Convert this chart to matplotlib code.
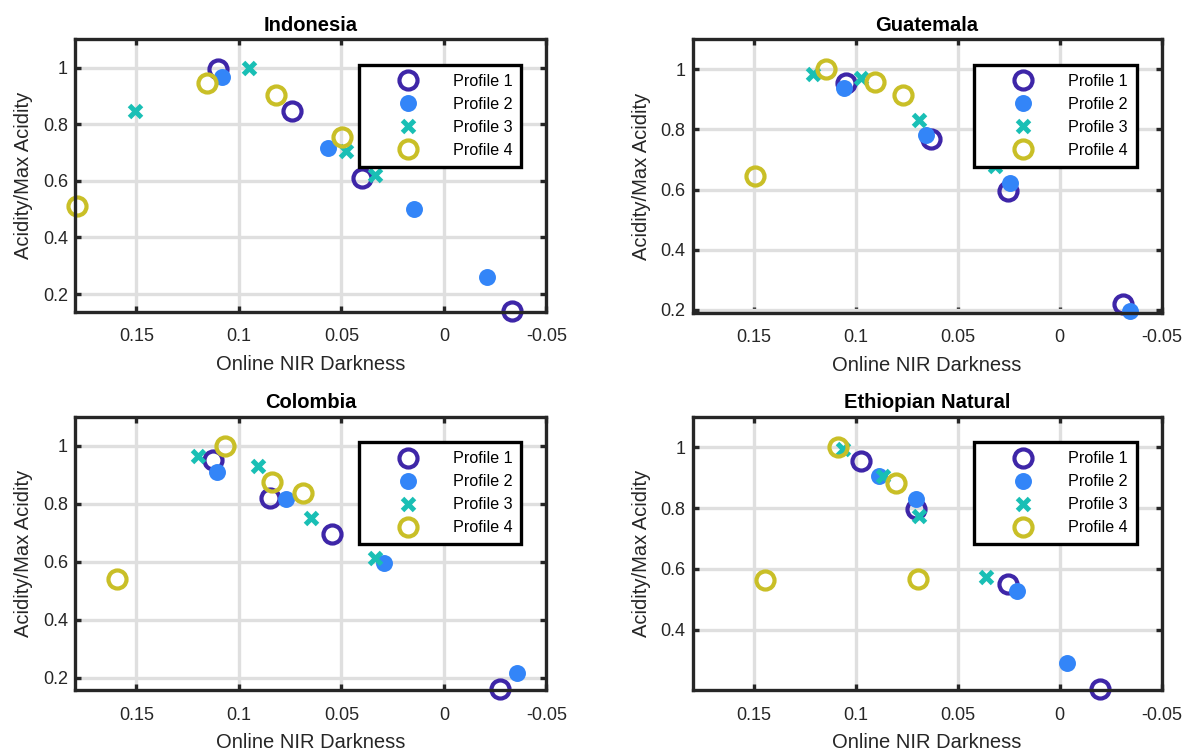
import matplotlib
matplotlib.use("Agg")
import matplotlib.pyplot as plt
from matplotlib.ticker import FuncFormatter

plt.rcParams['font.family'] = ['Liberation Sans', 'DejaVu Sans']
plt.rcParams['axes.unicode_minus'] = False

titles = ["Indonesia", "Guatemala", "Colombia", "Ethiopian Natural"]
profiles = ["Profile 1", "Profile 2", "Profile 3", "Profile 4"]

# Online NIR darkness (x) and normalised acidity (y) per profile
indonesia_x = [[0.110, 0.074, 0.040, -0.033],
               [0.1085, 0.0567, 0.0147, -0.0208],
               [0.1505, 0.095, 0.0478, 0.0338],
               [0.179, 0.1155, 0.0819, 0.0495]]
indonesia_y = [[0.994, 0.848, 0.609, 0.139],
               [0.968, 0.715, 0.502, 0.260],
               [0.848, 1.000, 0.704, 0.621],
               [0.512, 0.947, 0.902, 0.754]]

guatemala_x = [[0.1047, 0.0633, 0.0253, -0.0312],
               [0.1056, 0.0657, 0.0244, -0.0343],
               [0.1207, 0.0974, 0.069, 0.0317],
               [0.1496, 0.1146, 0.0904, 0.0767]]
guatemala_y = [[0.955, 0.768, 0.594, 0.218],
               [0.939, 0.783, 0.621, 0.195],
               [0.986, 0.970, 0.830, 0.679],
               [0.646, 1.000, 0.959, 0.914]]

colombia_x = [[0.1125, 0.0849, 0.0546, -0.0275],
              [0.1106, 0.077, 0.0292, -0.0355],
              [0.1202, 0.0907, 0.0648, 0.0338],
              [0.1593, 0.1068, 0.084, 0.0686]]
colombia_y = [[0.950, 0.821, 0.694, 0.160],
              [0.908, 0.815, 0.596, 0.215],
              [0.965, 0.931, 0.752, 0.611],
              [0.540, 1.000, 0.875, 0.836]]

ethiopia_x = [[0.0974, 0.0702, 0.0253, -0.020],
              [0.0886, 0.0702, 0.0211, -0.0035],
              [0.1064, 0.0867, 0.069, 0.0359],
              [0.1445, 0.1087, 0.080, 0.0693]]
ethiopia_y = [[0.953, 0.796, 0.551, 0.205],
              [0.904, 0.829, 0.529, 0.292],
              [0.994, 0.904, 0.774, 0.574],
              [0.565, 1.000, 0.881, 0.568]]

panel_x = [indonesia_x, guatemala_x, colombia_x, ethiopia_x]
panel_y = [indonesia_y, guatemala_y, colombia_y, ethiopia_y]
y_bottom = [0.1375, 0.19, 0.157, 0.203]

x_ticks = [0.15, 0.1, 0.05, 0, -0.05]
y_ticks = [0.2, 0.4, 0.6, 0.8, 1.0]

colors = ["#3e26a8", "#3385f8", "#19bfb5", "#c9bf27"]
styles = [
    dict(marker='o', ms=13.0, mew=3.0, mfc='none'),
    dict(marker='o', ms=12.2, mew=0.0),
    dict(marker='x', ms=8.5, mew=3.6),
    dict(marker='o', ms=13.0, mew=3.0, mfc='none'),
]

positions = [
    [0.0633, 0.5860, 0.3978, 0.3618],
    [0.5844, 0.5847, 0.3959, 0.3631],
    [0.0633, 0.0837, 0.3978, 0.3630],
    [0.5844, 0.0837, 0.3959, 0.3630],
]

dark = "#262626"
fmt = FuncFormatter(lambda v, p: "%g" % round(v, 4))

fig = plt.figure(figsize=(11.85, 7.53), dpi=100)
for k in range(4):
    ax = fig.add_axes(positions[k])
    for j in range(4):
        st = dict(styles[j])
        ax.plot(panel_x[k][j], panel_y[k][j], linestyle='none',
                color=colors[j], mec=colors[j], label=profiles[j],
                clip_on=False, zorder=3, **st)
    ax.set_xlim(0.18, -0.05)
    ax.set_ylim(y_bottom[k], 1.1)
    ax.set_xticks(x_ticks)
    ax.set_yticks([t for t in y_ticks if t >= y_bottom[k]])
    ax.xaxis.set_major_formatter(fmt)
    ax.yaxis.set_major_formatter(fmt)
    ax.grid(True, color="#dfdfdf", linewidth=2.4, zorder=0)
    ax.set_axisbelow(True)
    for s in ax.spines.values():
        s.set_linewidth(2.4)
        s.set_color(dark)
        s.set_zorder(4)
    ax.tick_params(axis='both', direction='in', length=4, width=2.4,
                   color=dark, labelcolor=dark, labelsize=13,
                   top=True, right=True)
    ax.tick_params(axis='x', pad=12)
    ax.tick_params(axis='y', pad=5)
    ax.set_xlabel("Online NIR Darkness", fontsize=14.5, color=dark, labelpad=7)
    ax.set_ylabel("Acidity/Max Acidity", fontsize=14.5, color=dark, labelpad=7)
    ax.set_title(titles[k], fontsize=14.5, fontweight='bold', pad=6)
    leg = ax.legend(loc='upper right', bbox_to_anchor=(0.947, 0.906),
                    borderaxespad=0, fontsize=11.6, fancybox=False,
                    framealpha=1, edgecolor='black', borderpad=0.55,
                    handlelength=5.0, handletextpad=0.3, labelspacing=0.5,
                    numpoints=1)
    leg.get_frame().set_linewidth(2.4)
    leg.set_zorder(6)

fig.savefig("out.png", dpi=100)
